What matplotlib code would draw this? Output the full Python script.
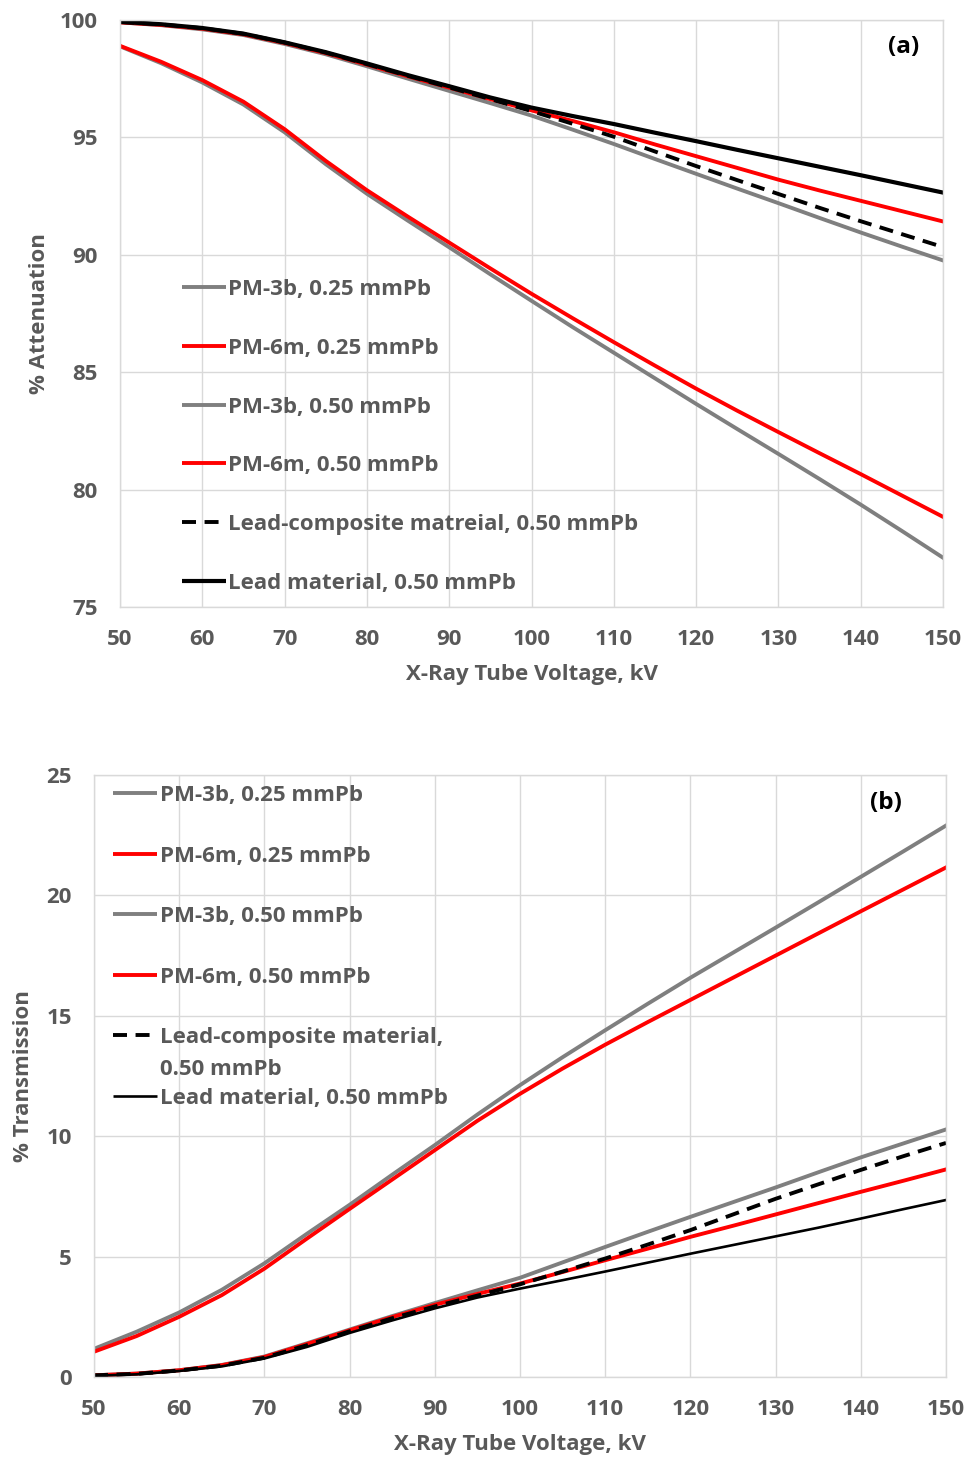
import matplotlib
matplotlib.use("Agg")
import matplotlib.pyplot as plt

plt.rcParams["font.family"] = ["Open Sans", "DejaVu Sans"]
plt.rcParams["font.weight"] = "bold"

TEXT = "#595959"
GRID = "#d9d9d9"

# Tube voltage (kV)
kv = [50, 55, 60, 65, 70, 75, 80, 85, 90, 95, 100,
      105, 110, 115, 120, 125, 130, 135, 140, 145, 150]

# ---- (a) % attenuation ----
att_pm3b_025 = [98.88, 98.16, 97.34, 96.40, 95.22, 93.86, 92.60, 91.45, 90.32, 89.17, 88.04,
                86.92, 85.83, 84.74, 83.65, 82.58, 81.52, 80.45, 79.36, 78.24, 77.10]
att_pm6m_025 = [98.90, 98.22, 97.44, 96.52, 95.35, 94.00, 92.75, 91.62, 90.52, 89.42, 88.34,
                87.30, 86.28, 85.28, 84.30, 83.36, 82.45, 81.55, 80.66, 79.75, 78.84]
att_pm3b_050 = [99.90, 99.78, 99.60, 99.36, 98.98, 98.54, 98.03, 97.50, 96.98, 96.46, 95.93,
                95.33, 94.72, 94.08, 93.45, 92.82, 92.20, 91.57, 90.95, 90.35, 89.76]
att_pm6m_050 = [99.90, 99.79, 99.63, 99.39, 99.02, 98.59, 98.10, 97.60, 97.12, 96.63, 96.15,
                95.70, 95.22, 94.70, 94.20, 93.70, 93.20, 92.74, 92.30, 91.86, 91.42]
att_comp_050 = [99.92, 99.81, 99.65, 99.41, 99.04, 98.61, 98.12, 97.62, 97.13, 96.63, 96.12,
                95.58, 95.03, 94.40, 93.78, 93.18, 92.59, 92.00, 91.43, 90.88, 90.33]
att_lead_050 = [99.92, 99.82, 99.66, 99.42, 99.05, 98.63, 98.15, 97.65, 97.18, 96.70, 96.27,
                95.91, 95.57, 95.20, 94.84, 94.47, 94.11, 93.75, 93.39, 93.02, 92.65]

# ---- (b) % transmission ----
tr_pm3b_025 = [1.17, 1.88, 2.68, 3.62, 4.72, 5.95, 7.15, 8.40, 9.63, 10.90, 12.12,
               13.28, 14.40, 15.50, 16.58, 17.62, 18.66, 19.71, 20.77, 21.83, 22.90]
tr_pm6m_025 = [1.05, 1.70, 2.50, 3.40, 4.50, 5.75, 6.98, 8.20, 9.42, 10.64, 11.76,
               12.81, 13.80, 14.74, 15.66, 16.58, 17.50, 18.42, 19.34, 20.25, 21.16]
tr_pm3b_050 = [0.07, 0.14, 0.28, 0.50, 0.85, 1.40, 1.97, 2.53, 3.07, 3.60, 4.12,
               4.76, 5.40, 6.03, 6.65, 7.26, 7.87, 8.50, 9.12, 9.70, 10.28]
tr_pm6m_050 = [0.07, 0.14, 0.28, 0.49, 0.83, 1.37, 1.94, 2.49, 3.00, 3.45, 3.88,
               4.36, 4.85, 5.33, 5.82, 6.28, 6.75, 7.22, 7.69, 8.15, 8.62]
tr_comp_050 = [0.07, 0.13, 0.27, 0.47, 0.80, 1.32, 1.90, 2.44, 2.93, 3.38, 3.85,
               4.38, 4.92, 5.50, 6.10, 6.75, 7.40, 8.00, 8.60, 9.17, 9.72]
tr_lead_050 = [0.05, 0.11, 0.25, 0.44, 0.77, 1.25, 1.83, 2.35, 2.85, 3.30, 3.67,
               4.02, 4.38, 4.75, 5.12, 5.48, 5.84, 6.20, 6.58, 6.97, 7.35]

labels_a = ["PM-3b, 0.25 mmPb", "PM-6m, 0.25 mmPb", "PM-3b, 0.50 mmPb",
            "PM-6m, 0.50 mmPb", "Lead-composite matreial, 0.50 mmPb",
            "Lead material, 0.50 mmPb"]
labels_b = ["PM-3b, 0.25 mmPb", "PM-6m, 0.25 mmPb", "PM-3b, 0.50 mmPb",
            "PM-6m, 0.50 mmPb", "Lead-composite material,\n0.50 mmPb",
            "Lead material, 0.50 mmPb"]

GREY = "#7f7f7f"
RED = "#ff0000"
DASH = (3.6, 2.2)

styles_a = [dict(color=GREY, lw=2.8), dict(color=RED, lw=2.8),
            dict(color=GREY, lw=2.8), dict(color=RED, lw=2.8),
            dict(color="black", lw=2.8, dashes=DASH), dict(color="black", lw=3.0)]
styles_b = [dict(color=GREY, lw=2.8), dict(color=RED, lw=2.8),
            dict(color=GREY, lw=2.8), dict(color=RED, lw=2.8),
            dict(color="black", lw=2.8, dashes=DASH), dict(color="black", lw=1.9)]

W, H = 975, 1464
fig = plt.figure(figsize=(W / 100, H / 100), dpi=100)


def px_axes(left, top, right, bottom):
    return fig.add_axes([left / W, 1 - bottom / H, (right - left) / W, (bottom - top) / H])


FS = 16
FS_TAG = 17.5


def style_axes(ax, ylim, yticks, ylabel, xpad, ypad, xlabelpad, ylabelpad):
    ax.set_xlim(50, 150)
    ax.set_ylim(*ylim)
    ax.set_xticks(range(50, 151, 10))
    ax.set_yticks(yticks)
    ax.grid(True, color=GRID, lw=1.0)
    ax.set_axisbelow(True)
    for s in ax.spines.values():
        s.set_color(GRID)
        s.set_linewidth(1.0)
    ax.tick_params(length=0, labelsize=FS, labelcolor=TEXT)
    ax.tick_params(axis="x", pad=xpad)
    ax.tick_params(axis="y", pad=ypad)
    for lab in ax.get_xticklabels() + ax.get_yticklabels():
        lab.set_fontweight("bold")
    ax.set_xlabel("X-Ray Tube Voltage, kV", fontsize=FS, color=TEXT,
                  fontweight="bold", labelpad=xlabelpad)
    ax.set_ylabel(ylabel, fontsize=FS, color=TEXT, fontweight="bold",
                  labelpad=ylabelpad)


def draw_legend(ax, styles, labels, x0, x1, xt, y0, dy, line2=0.0):
    for i, (st, lab) in enumerate(zip(styles, labels)):
        y = y0 - i * dy
        kw = dict(st)
        dashes = kw.pop("dashes", None)
        ln, = ax.plot([x0, x1], [y, y], transform=ax.transAxes,
                      clip_on=False, solid_capstyle="butt", **kw)
        if dashes is not None:
            ln.set_dashes(dashes)
        parts = lab.split("\n")
        for j, p in enumerate(parts):
            ax.text(xt, y - j * line2, p, transform=ax.transAxes,
                    fontsize=FS, color=TEXT, fontweight="bold",
                    va="center_baseline", ha="left")


def draw_series(ax, ys, styles):
    for y, st in zip(ys, styles):
        kw = dict(st)
        dashes = kw.pop("dashes", None)
        ln, = ax.plot(kv, y, solid_joinstyle="round", **kw)
        if dashes is not None:
            ln.set_dashes(dashes)


# Panel (a)
ax1 = px_axes(120, 20, 943, 607)
style_axes(ax1, (75, 100), range(75, 101, 5), "% Attenuation",
           xpad=16, ypad=16, xlabelpad=10, ylabelpad=7)
draw_series(ax1, [att_pm3b_025, att_pm6m_025, att_pm3b_050,
                  att_pm6m_050, att_comp_050, att_lead_050], styles_a)
draw_legend(ax1, styles_a, labels_a, 0.0753, 0.1288, 0.1312,
            (607 - 287) / 587, 58.8 / 587)
ax1.text(0.9526, 0.954, "(a)", transform=ax1.transAxes, fontsize=FS_TAG,
         fontweight="bold", color="black", ha="center", va="center")

# Panel (b)
ax2 = px_axes(94, 775, 946, 1377)
style_axes(ax2, (0, 25), range(0, 26, 5), "% Transmission",
           xpad=16, ypad=16, xlabelpad=10, ylabelpad=9)
draw_series(ax2, [tr_pm3b_025, tr_pm6m_025, tr_pm3b_050,
                  tr_pm6m_050, tr_comp_050, tr_lead_050], styles_b)
draw_legend(ax2, styles_b, labels_b, 0.0223, 0.074, 0.0775,
            (1377 - 793) / 602, 60.6 / 602, line2=32 / 602)
ax2.text(0.9296, 0.9535, "(b)", transform=ax2.transAxes, fontsize=FS_TAG,
         fontweight="bold", color="black", ha="center", va="center")

fig.savefig("out.png", dpi=100, facecolor="white")
